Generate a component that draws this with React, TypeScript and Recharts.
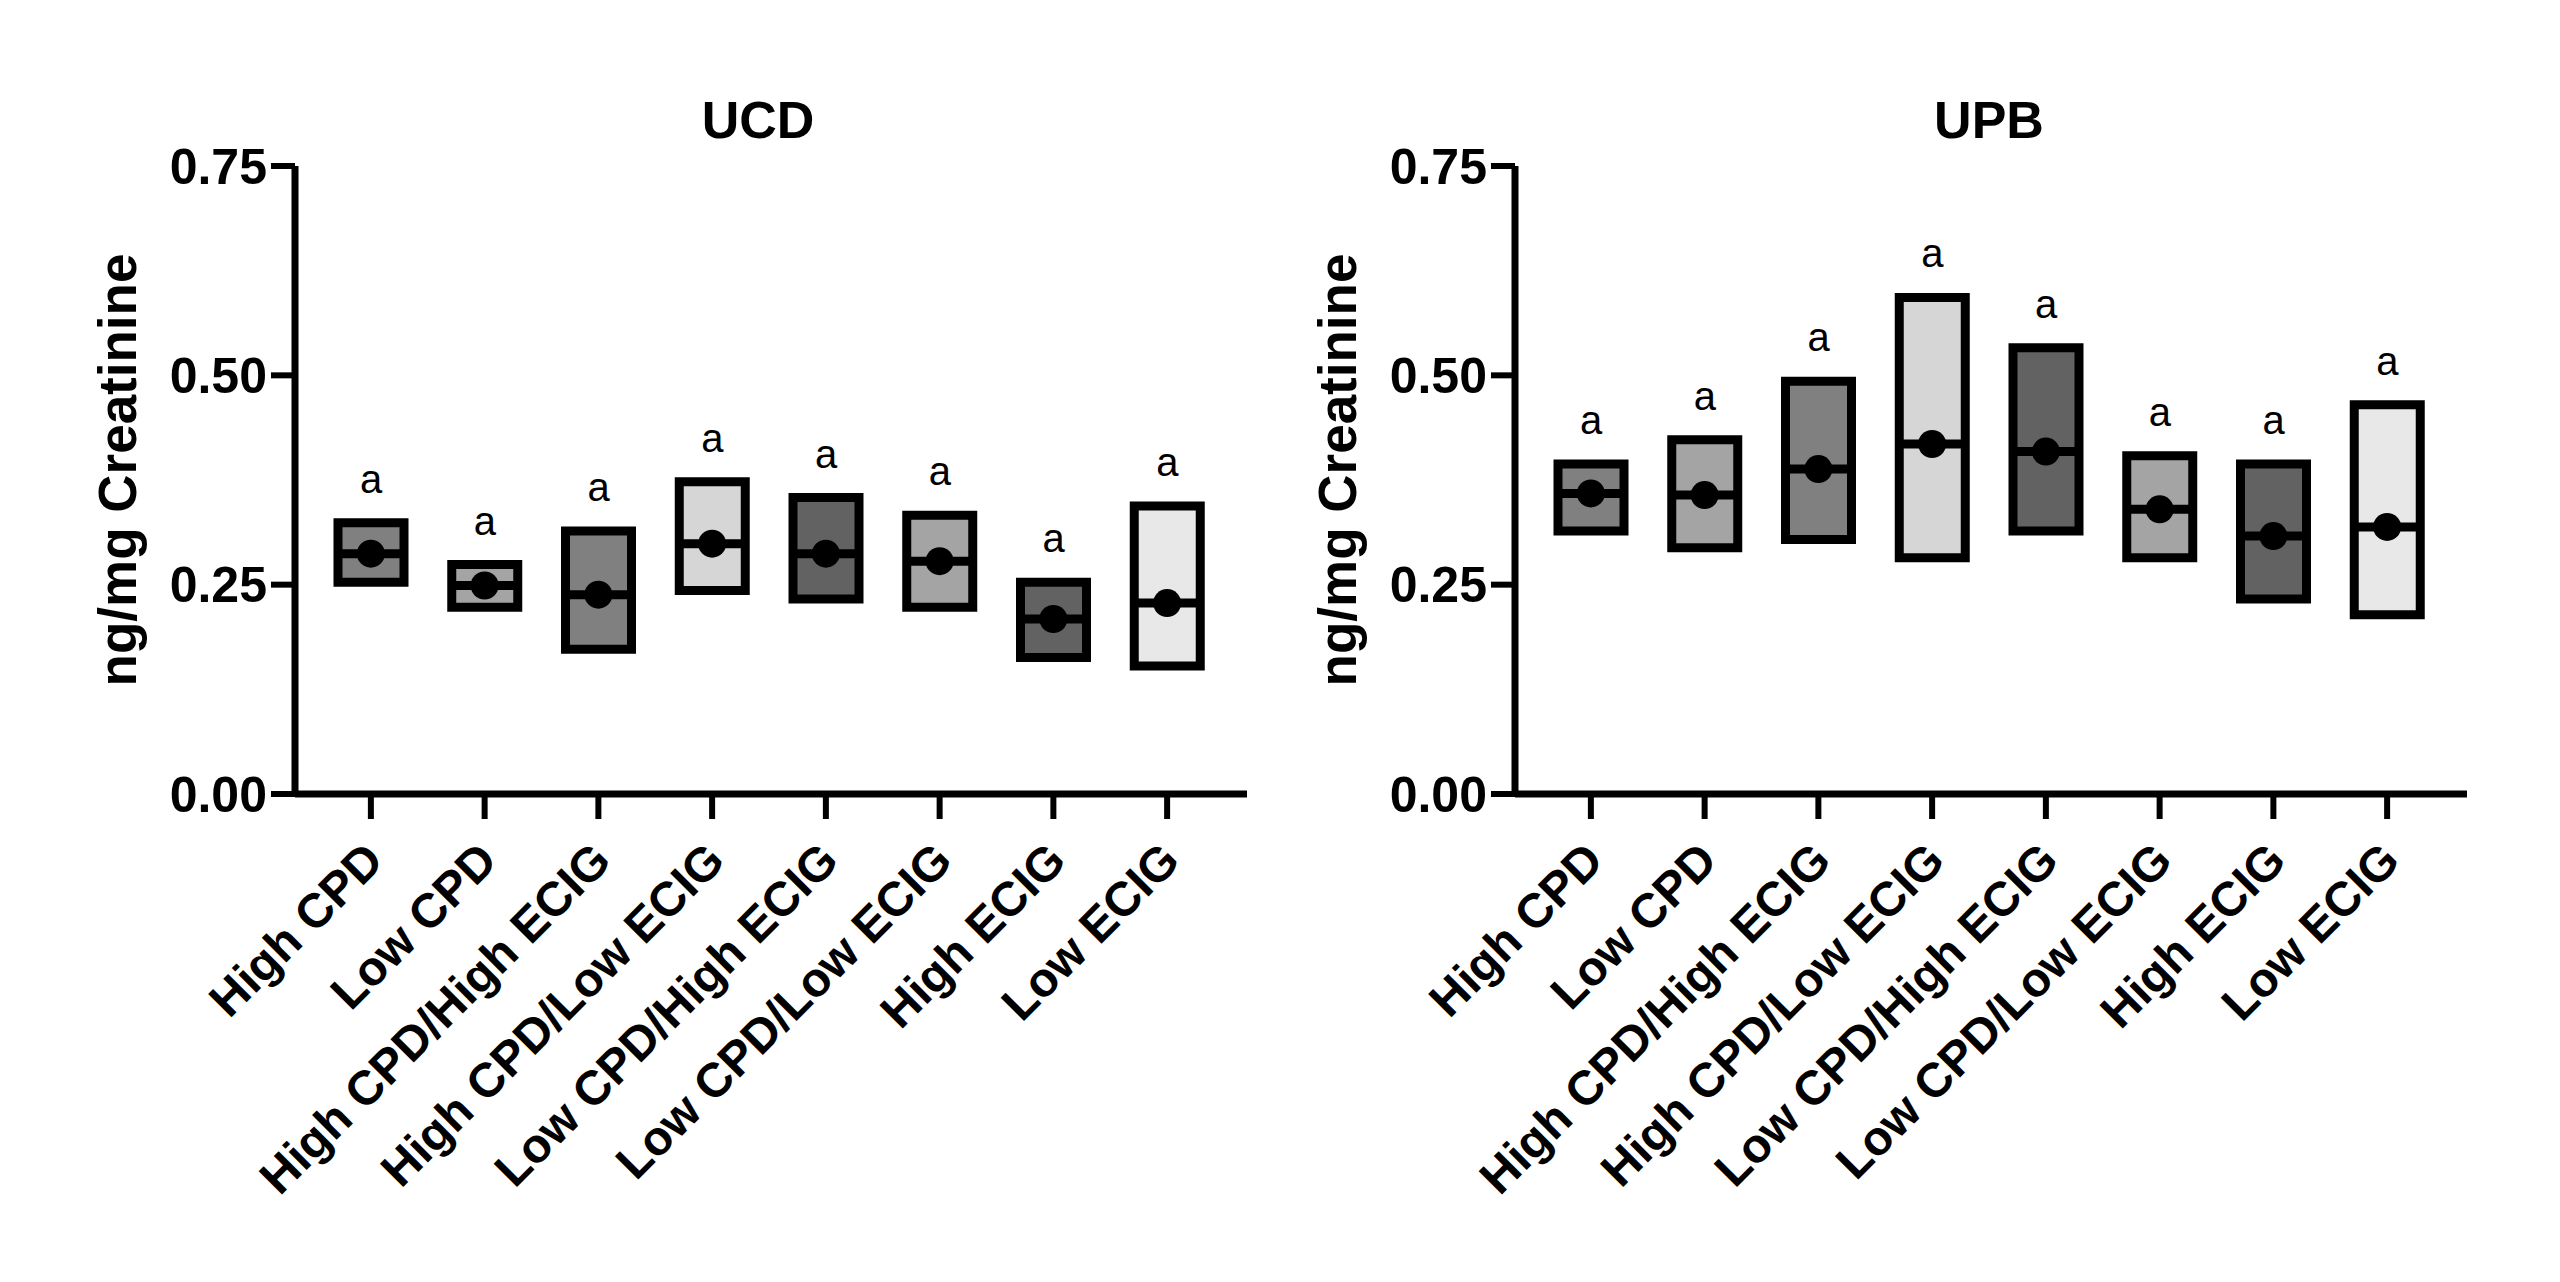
import { Bar, Cell, ComposedChart, LabelList, Line, XAxis, YAxis } from "recharts"

const groups = [
  "High CPD",
  "Low CPD",
  "High CPD/High ECIG",
  "High CPD/Low ECIG",
  "Low CPD/High ECIG",
  "Low CPD/Low ECIG",
  "High ECIG",
  "Low ECIG",
]
const groupFills = ["#808080", "#a4a4a4", "#808080", "#d6d6d6", "#626262", "#a4a4a4", "#626262", "#e8e8e8"]
const yTicks = [0, 0.25, 0.5, 0.75]
const letters = ["a", "a", "a", "a", "a", "a", "a", "a"]

// UCD: min / max / mean
const ucdLow = [0.253, 0.223, 0.173, 0.243, 0.233, 0.223, 0.163, 0.153]
const ucdHigh = [0.324, 0.274, 0.314, 0.373, 0.354, 0.333, 0.253, 0.344]
const ucdMean = [0.287, 0.249, 0.238, 0.299, 0.287, 0.278, 0.209, 0.228]

// UPB: min / max / mean
const upbLow = [0.314, 0.294, 0.304, 0.282, 0.314, 0.282, 0.233, 0.214]
const upbHigh = [0.394, 0.423, 0.493, 0.593, 0.533, 0.404, 0.394, 0.465]
const upbMean = [0.359, 0.357, 0.388, 0.418, 0.409, 0.34, 0.308, 0.319]

const FONT = "'Liberation Sans', Arial, sans-serif"
const BAR = 66

function buildRows(low: number[], high: number[], mean: number[]) {
  return groups.map((g, i) => ({
    group: g,
    range: [low[i], high[i]],
    mean: mean[i],
    sig: letters[i],
  }))
}

const XTick = ({ x, y, payload }: any) => {
  const tx = x + 15
  const ty = y + 42
  return (
    <text
      x={tx}
      y={ty}
      transform={`rotate(-45, ${tx}, ${ty})`}
      textAnchor="end"
      fontSize={48}
      fontWeight="bold"
      fontFamily={FONT}
      fill="#000"
    >
      {payload.value}
    </text>
  )
}

const MeanMark = (p: any) => {
  if (p.cx == null || p.cy == null) return <g key={p.index} />
  return (
    <g key={`m-${p.index}`}>
      <line x1={p.cx - BAR / 2} x2={p.cx + BAR / 2} y1={p.cy} y2={p.cy} stroke="#000" strokeWidth={9} />
      <circle cx={p.cx} cy={p.cy} r={14} fill="#000" />
    </g>
  )
}

function Panel({ rows }: { rows: ReturnType<typeof buildRows> }) {
  return (
    <ComposedChart
      width={1280}
      height={1282}
      data={rows}
      margin={{ top: 166, right: 33, bottom: 0, left: 0 }}
    >
      <XAxis
        dataKey="group"
        interval={0}
        height={488}
        tickSize={25}
        padding={{ left: 19, right: 23 }}
        axisLine={{ stroke: "#000", strokeWidth: 7 }}
        tickLine={{ stroke: "#000", strokeWidth: 6 }}
        tick={<XTick />}
      />
      <YAxis
        width={295}
        domain={[0, 0.75]}
        ticks={yTicks}
        tickSize={24}
        tickMargin={4}
        tickFormatter={(v: number) => v.toFixed(2)}
        axisLine={{ stroke: "#000", strokeWidth: 7 }}
        tickLine={{ stroke: "#000", strokeWidth: 6 }}
        tick={{ fill: "#000", fontSize: 50, fontWeight: "bold", fontFamily: FONT }}
        label={{
          value: "ng/mg Creatinine",
          angle: -90,
          position: "insideLeft",
          offset: 117,
          dy: -10,
          style: { textAnchor: "middle", fontSize: 53, fontWeight: "bold", fontFamily: FONT, fill: "#000" },
        }}
      />
      <Bar dataKey="range" barSize={BAR} stroke="#000" strokeWidth={9} isAnimationActive={false}>
        {rows.map((_, i) => (
          <Cell key={i} fill={groupFills[i]} />
        ))}
        <LabelList dataKey="sig" position="top" offset={30} fill="#000" fontSize={40} fontFamily={FONT} />
      </Bar>
      <Line
        dataKey="mean"
        stroke="none"
        dot={MeanMark}
        activeDot={false}
        isAnimationActive={false}
      />
    </ComposedChart>
  )
}

const titleStyle = {
  position: "absolute" as const,
  top: 93,
  width: 400,
  textAlign: "center" as const,
  fontFamily: FONT,
  fontWeight: "bold" as const,
  fontSize: 52,
  lineHeight: "54px",
  color: "#000",
}

export default function App() {
  return (
    <div style={{ position: "absolute", left: 0, top: 0, width: 2560, height: 1282, background: "#fff" }}>
      <div style={{ position: "absolute", left: 0, top: 0 }}>
        <Panel rows={buildRows(ucdLow, ucdHigh, ucdMean)} />
      </div>
      <div style={{ position: "absolute", left: 1220, top: 0 }}>
        <Panel rows={buildRows(upbLow, upbHigh, upbMean)} />
      </div>
      <div style={{ ...titleStyle, left: 558 }}>UCD</div>
      <div style={{ ...titleStyle, left: 1789 }}>UPB</div>
    </div>
  )
}
